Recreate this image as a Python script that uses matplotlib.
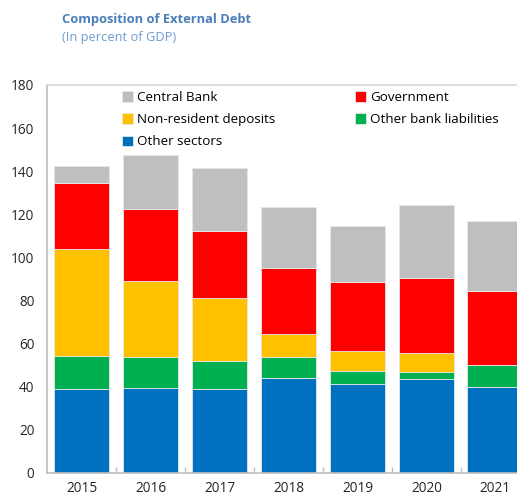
import matplotlib.pyplot as plt
import numpy as np

plt.rcParams['font.family'] = ['Open Sans', 'DejaVu Sans']

# External debt by sector, percent of GDP
years = ['2015', '2016', '2017', '2018', '2019', '2020', '2021']
other_sectors = [39.2, 39.6, 39.0, 44.3, 41.3, 43.4, 39.9]
other_bank = [15.0, 14.1, 13.0, 9.3, 6.1, 3.5, 10.1]
nonres_deposits = [49.5, 35.4, 29.4, 11.1, 9.0, 8.8, 0.0]
government = [30.7, 33.2, 30.9, 30.3, 32.0, 34.7, 34.4]
central_bank = [8.1, 25.2, 29.2, 28.5, 26.1, 34.0, 32.3]

series = [
    ('Other sectors', other_sectors, '#0070c0'),
    ('Other bank liabilities', other_bank, '#00b050'),
    ('Non-resident deposits', nonres_deposits, '#ffc000'),
    ('Government', government, '#ff0000'),
    ('Central Bank', central_bank, '#bfbfbf'),
]

fig = plt.figure(figsize=(5.17, 5.0), dpi=100)
ax = fig.add_axes([0.091, 0.054, 0.934, 0.776])

x = np.arange(len(years))
bottom = np.zeros(len(years))
bars = {}
for name, vals, color in series:
    vals = np.array(vals)
    bars[name] = ax.bar(x, vals, 0.81, bottom=bottom, color=color,
                        edgecolor='#e6e6e6', linewidth=0.6, label=name)
    bottom += vals

ax.set_xlim(-0.5, len(years) - 0.5)
ax.set_ylim(0, 180)
ax.set_yticks(range(0, 181, 20))
ax.set_xticks(x)
ax.set_xticklabels(years)
ax.set_xticks(np.arange(0.5, len(years) - 0.5, 1), minor=True)

ax.tick_params(axis='both', which='major', length=0, labelsize=9.8,
               colors='#262626')
ax.tick_params(axis='x', which='major', pad=6)
ax.tick_params(axis='y', which='major', pad=9)
ax.tick_params(axis='x', which='minor', direction='in', length=4,
               color='#bfbfbf', width=1)

for side in ['left', 'bottom']:
    ax.spines[side].set_color('#bfbfbf')
    ax.spines[side].set_linewidth(1.2)
ax.spines['top'].set_color('#d9d9d9')
ax.spines['top'].set_linewidth(1.2)
ax.spines['right'].set_visible(False)

order = ['Central Bank', 'Non-resident deposits', 'Other sectors',
         'Government', 'Other bank liabilities']
ax.legend([bars[n] for n in order], order, ncol=2, frameon=False,
          loc='upper left', bbox_to_anchor=(0.145, 0.998), fontsize=9.6,
          handlelength=0.8, handleheight=0.8, handletextpad=0.3,
          columnspacing=6.0, labelspacing=0.68, borderaxespad=0)

fig.text(0.12, 0.962, 'Composition of External Debt', fontsize=9.3,
         fontweight='bold', color='#4a7ebb', va='center')
fig.text(0.12, 0.925, '(In percent of GDP)', fontsize=9.3,
         color='#6f9bd1', va='center')

fig.savefig('out.png', dpi=100)
